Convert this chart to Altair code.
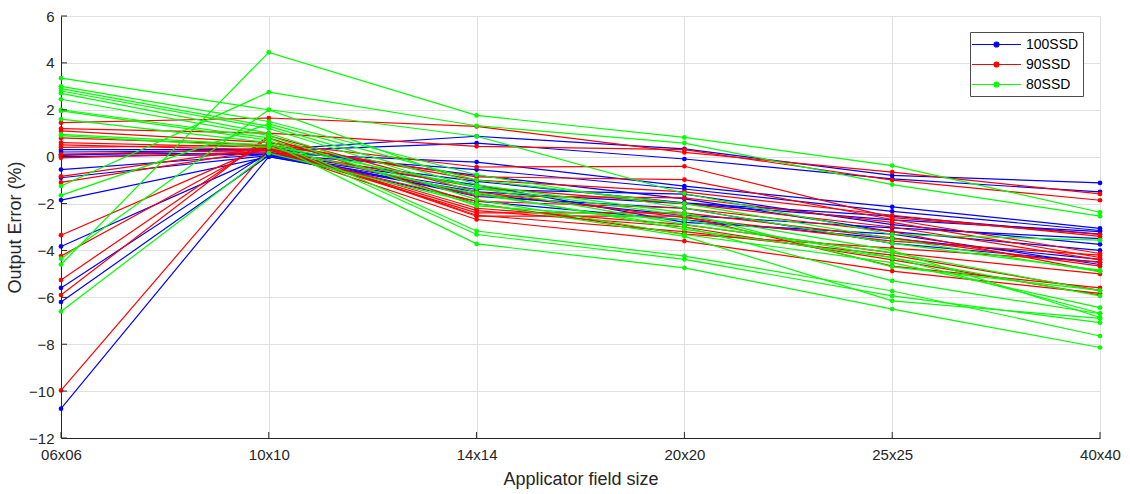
import altair as alt
import pandas as pd

categories = ["06x06", "10x10", "14x14", "20x20", "25x25", "40x40"]
series_names = ["100SSD", "90SSD", "80SSD"]
series_colors = ["#0000FF", "#FF0000", "#00FF00"]
y_ticks = [-12, -10, -8, -6, -4, -2, 0, 2, 4, 6]

ssd100 = [
    [0.30, 0.30, 0.87, 0.33, -0.80, -1.12],
    [0.20, 0.25, 0.58, -0.10, -0.95, -1.50],
    [0.10, 0.15, -0.23, -1.26, -2.14, -3.06],
    [0.00, 0.10, -0.55, -1.38, -2.33, -3.15],
    [-0.55, 0.10, -1.05, -1.97, -2.54, -3.30],
    [-0.90, 0.05, -1.40, -1.60, -2.90, -3.74],
    [-1.85, 0.00, -1.60, -2.50, -3.04, -3.50],
    [-3.83, 0.10, -1.90, -2.70, -3.50, -4.38],
    [-5.60, 0.20, -1.70, -2.20, -3.70, -4.50],
    [-6.20, 0.05, -1.20, -2.80, -3.30, -4.60],
    [-10.75, 0.00, -1.50, -2.00, -2.70, -3.20],
    [0.05, 0.35, -0.80, -1.80, -3.20, -4.00],
]
ssd90 = [
    [1.45, 1.65, 1.29, 0.18, -0.66, -1.59],
    [1.20, 1.00, 0.44, 0.30, -1.00, -1.86],
    [1.10, 0.60, -0.44, -0.41, -2.60, -3.32],
    [0.80, 0.50, -0.86, -0.98, -2.68, -4.13],
    [0.60, 0.40, -1.67, -1.76, -2.80, -4.30],
    [0.50, 0.30, -2.40, -2.40, -3.46, -4.67],
    [0.40, 0.50, -2.54, -2.54, -4.67, -5.60],
    [0.10, 0.30, -2.68, -3.60, -4.88, -5.83],
    [-0.05, 0.20, -1.90, -2.20, -3.20, -4.90],
    [-0.84, 0.40, -2.20, -2.90, -4.10, -5.00],
    [-1.10, 0.30, -1.30, -2.00, -3.00, -4.40],
    [-3.35, 0.50, -2.50, -3.20, -4.20, -5.70],
    [-4.24, 0.60, -1.00, -1.50, -2.50, -3.40],
    [-5.26, 0.80, -2.00, -3.30, -3.90, -4.50],
    [-5.90, 0.90, -1.50, -2.60, -3.60, -4.20],
    [-9.97, 0.35, -2.30, -3.00, -4.40, -5.90],
]
ssd80 = [
    [-4.60, 4.45, 1.76, 0.82, -0.38, -2.37],
    [-1.25, 2.75, 1.32, 0.58, -1.19, -2.54],
    [3.35, 2.00, 0.87, -1.57, -3.32, -3.56],
    [3.00, 1.50, -0.77, -2.19, -3.70, -4.84],
    [2.90, 1.30, -1.33, -2.89, -4.10, -5.73],
    [2.80, 1.20, -1.53, -3.10, -4.31, -5.94],
    [2.70, 1.00, -1.83, -3.32, -4.52, -6.44],
    [2.45, 0.90, -2.10, -2.70, -4.30, -6.68],
    [2.00, 0.80, -3.17, -4.24, -5.73, -7.65],
    [1.95, 0.70, -3.32, -4.38, -5.94, -7.08],
    [1.60, 0.60, -3.72, -4.74, -6.50, -8.14],
    [0.95, 0.50, -1.30, -2.50, -4.00, -6.86],
    [0.90, 0.40, -1.60, -3.00, -5.30, -6.70],
    [-1.65, 1.40, -1.00, -2.00, -3.50, -4.90],
    [-4.35, 2.00, -1.20, -2.40, -4.70, -5.70],
    [-6.60, 0.15, -2.00, -3.40, -6.15, -6.90],
]

rows = []
for name, lines in zip(series_names, [ssd100, ssd90, ssd80]):
    for i, vals in enumerate(lines):
        for cat, v in zip(categories, vals):
            rows.append({"series": name, "line": f"{name}_{i}", "size": cat, "err": v})
df = pd.DataFrame(rows)

W, H = 1039, 422
FONT = "Liberation Sans"
TXT = "#262626"

x_enc = alt.X("size:N", sort=categories,
              scale=alt.Scale(type="point", padding=0, domain=categories),
              axis=alt.Axis(title="Applicator field size", labelAngle=0, ticks=False,
                            grid=True, gridColor="#e0e0e0", domainColor=TXT,
                            labelFont=FONT, labelFontSize=15, labelColor=TXT,
                            labelPadding=9, titleFont=FONT, titleFontSize=18,
                            titleFontWeight="normal", titleColor=TXT, titlePadding=8))
y_enc = alt.Y("err:Q", scale=alt.Scale(domain=[-12, 6], nice=False),
              axis=alt.Axis(title="Output Error (%)", values=y_ticks, ticks=False,
                            grid=True, gridColor="#e0e0e0", domainColor=TXT,
                            labelFont=FONT, labelFontSize=15, labelColor=TXT,
                            labelPadding=7, titleFont=FONT, titleFontSize=18,
                            titleFontWeight="normal", titleColor=TXT, titlePadding=4))

legend_path = "M-3.2,0H3.2M0.33,0A0.33,0.33,0,1,1,-0.33,0A0.33,0.33,0,1,1,0.33,0Z"

lines = alt.Chart(df).mark_line(
    strokeWidth=1.2,
    point=alt.OverlayMarkDef(filled=True, size=22, opacity=1),
).encode(
    x=x_enc,
    y=y_enc,
    color=alt.Color("series:N",
                    scale=alt.Scale(domain=series_names, range=series_colors),
                    legend=alt.Legend(title=None, orient="none", legendX=909, legendY=16,
                                      symbolType=legend_path, symbolSize=234,
                                      symbolStrokeWidth=1.1, symbolOffset=14,
                                      labelOffset=21, labelFont=FONT, labelFontSize=14,
                                      labelColor="#000000", rowPadding=4,
                                      padding=4, strokeColor="#4d4d4d", fillColor="white")),
    detail="line:N",
    order=alt.Order("size:N"),
)

ytick_df = pd.DataFrame({"err": y_ticks})
yticks = alt.Chart(ytick_df).mark_rule(color=TXT, strokeWidth=1).encode(
    y=y_enc,
    x=alt.value(0), x2=alt.value(6),
)
xtick_df = pd.DataFrame({"size": categories})
xticks = alt.Chart(xtick_df).mark_rule(color=TXT, strokeWidth=1).encode(
    x=x_enc,
    y=alt.value(H), y2=alt.value(H - 6),
)

chart = alt.layer(lines, yticks, xticks).properties(
    width=W, height=H,
    autosize=alt.AutoSizeParams(type="none"),
    padding={"left": 61, "top": 16, "right": 30, "bottom": 56},
    background="white",
).configure_view(stroke=None)

chart.save("out.html", embed_options={"renderer": "svg", "actions": False})
